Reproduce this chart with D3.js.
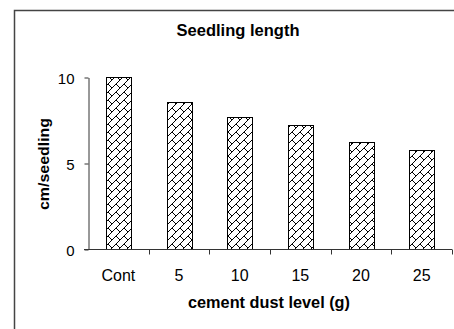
<!DOCTYPE html>
<html>
<head>
<meta charset="utf-8">
<script src="https://cdn.jsdelivr.net/npm/d3@7"></script>
<style>
  body { margin: 0; background: #fff; }
  svg { display: block; }
  text { font-family: "Liberation Sans", Arial, sans-serif; fill: #000; }
</style>
</head>
<body>
<div id="chart"></div>
<script>
// chart values
const levels = ["Cont", "5", "10", "15", "20", "25"];
const seedlingLength = [10.0, 8.55, 7.7, 7.2, 6.25, 5.78];
const yTicks = [0, 5, 10];

const width = 454;
const height = 329;
const margin = {top: 77, right: 2, bottom: 80, left: 88};

const svg = d3.select("#chart")
  .append("svg")
  .attr("width", width)
  .attr("height", height);

// pattern for the bars (diagonal brick)
const defs = svg.append("defs");
const pat = defs.append("pattern")
  .attr("id", "brick")
  .attr("patternUnits", "userSpaceOnUse")
  .attr("width", 8)
  .attr("height", 8);
pat.append("rect").attr("width", 8).attr("height", 8).attr("fill", "#fff");
pat.append("path")
  .attr("d", "M-1,9L9,-1M-1,1L1,-1M7,9L9,7M4,4L8,8")
  .attr("stroke", "#000")
  .attr("stroke-width", 1)
  .attr("fill", "none");

// outer chart frame (only top and left are inside the picture)
svg.append("path")
  .attr("d", `M14.5,${height}V10.5H${width}`)
  .attr("fill", "none")
  .attr("stroke", "#444")
  .attr("stroke-width", 1.5);

const x = d3.scaleBand()
  .domain(levels)
  .range([margin.left, width - margin.right])
  .paddingInner(0.59)
  .paddingOuter(0.295);

const y = d3.scaleLinear()
  .domain([0, 10])
  .range([height - margin.bottom, margin.top]);

// bars
svg.append("g")
  .selectAll("rect")
  .data(levels)
  .join("rect")
  .attr("x", d => Math.round(x(d)) + 0.5)
  .attr("y", (d, i) => Math.round(y(seedlingLength[i])) + 0.5)
  .attr("width", Math.round(x.bandwidth()))
  .attr("height", (d, i) => Math.round(y(0)) - Math.round(y(seedlingLength[i])))
  .attr("fill", "url(#brick)")
  .attr("stroke", "#000")
  .attr("stroke-width", 1);

// y axis
const yAxis = svg.append("g")
  .attr("transform", `translate(${margin.left + 0.5},0.5)`)
  .call(d3.axisLeft(y).tickValues(yTicks).tickSize(4).tickPadding(10).tickSizeOuter(0));
yAxis.select(".domain").attr("stroke", "#333");
yAxis.selectAll(".tick line").attr("stroke", "#333");
yAxis.selectAll("text")
  .style("font-size", "15px")
  .attr("fill", "#000")
  .attr("dy", "0.4em");

// x axis with ticks between the categories
const xAxisG = svg.append("g")
  .attr("transform", `translate(0,${Math.round(y(0)) + 0.5})`);
xAxisG.append("line")
  .attr("x1", margin.left - 4)
  .attr("x2", width - margin.right)
  .attr("stroke", "#333");
const step = x.step();
const bounds = d3.range(levels.length + 1).map(i => margin.left + i * step);
xAxisG.selectAll(".sep")
  .data(bounds.slice(1))
  .join("line")
  .attr("x1", d => Math.round(d) + 0.5)
  .attr("x2", d => Math.round(d) + 0.5)
  .attr("y1", 0)
  .attr("y2", 5)
  .attr("stroke", "#333");
xAxisG.selectAll(".lbl")
  .data(levels)
  .join("text")
  .attr("x", d => x(d) + x.bandwidth() / 2)
  .attr("y", 31)
  .attr("text-anchor", "middle")
  .style("font-size", "16px")
  .text(d => d);

// titles
svg.append("text")
  .attr("x", 238 - 61.5)
  .attr("y", 36)
  .attr("textLength", 123)
  .attr("lengthAdjust", "spacingAndGlyphs")
  .attr("font-weight", "bold")
  .style("font-size", "16px")
  .text("Seedling length");

svg.append("text")
  .attr("x", 269 - 81)
  .attr("y", 308)
  .attr("textLength", 162)
  .attr("lengthAdjust", "spacingAndGlyphs")
  .attr("font-weight", "bold")
  .style("font-size", "16px")
  .text("cement dust level (g)");

svg.append("text")
  .attr("transform", "translate(49,210) rotate(-90)")
  .attr("textLength", 92)
  .attr("lengthAdjust", "spacingAndGlyphs")
  .attr("font-weight", "bold")
  .style("font-size", "15px")
  .text("cm/seedling");
</script>
</body>
</html>
